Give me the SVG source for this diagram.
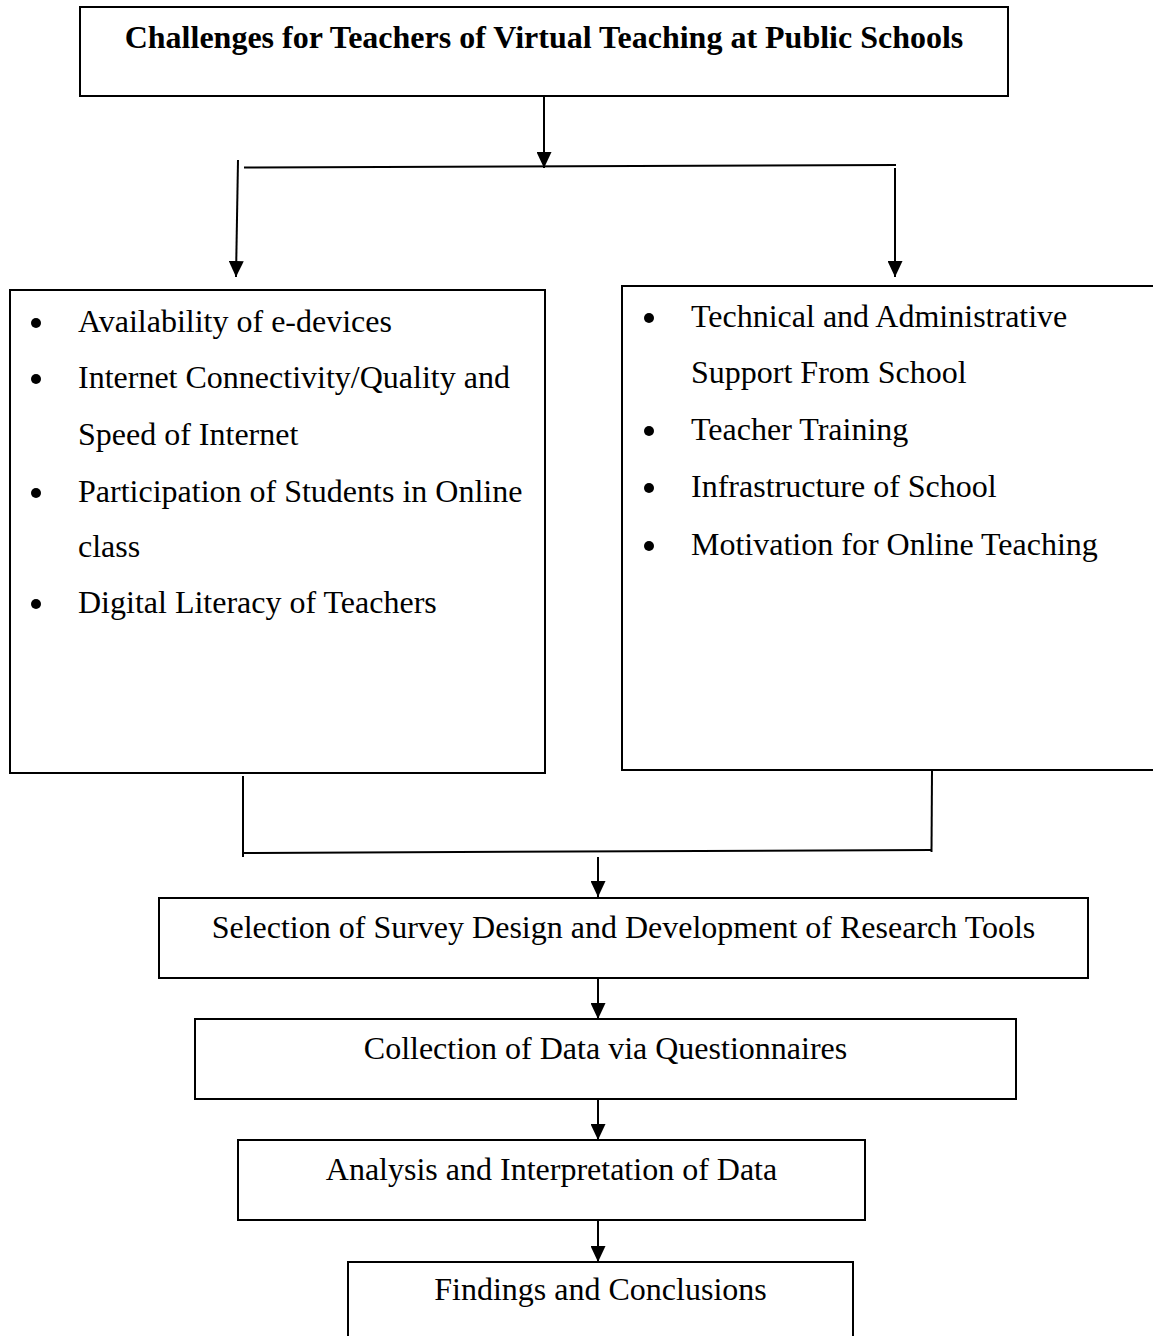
<svg xmlns="http://www.w3.org/2000/svg" width="1153" height="1336" viewBox="0 0 1153 1336">
<defs>
<style>
.box{fill:#fff;stroke:#000;stroke-width:2}
.t{font-family:"Liberation Serif","Times New Roman",serif;font-size:32px;fill:#000}
.c{text-anchor:middle}
.b{font-weight:bold}
.ln{fill:none;stroke:#000;stroke-width:2}
.bul{fill:#000}
</style>
<marker id="ah" viewBox="0 0 16 15" refX="16" refY="7.5" markerWidth="16" markerHeight="15" markerUnits="userSpaceOnUse" orient="auto">
<path d="M0,0 L16,7.5 L0,15 z" fill="#000"/>
</marker>
</defs>
<rect width="1153" height="1336" fill="#fff"/>
<g id="connectors">
<line class="ln" x1="544" y1="97" x2="544" y2="168" marker-end="url(#ah)"/>
<line class="ln" x1="244" y1="167.5" x2="896" y2="165"/>
<line class="ln" x1="238" y1="160" x2="236" y2="277" marker-end="url(#ah)"/>
<line class="ln" x1="895" y1="168" x2="895" y2="277" marker-end="url(#ah)"/>
<line class="ln" x1="243" y1="776" x2="243" y2="857"/>
<line class="ln" x1="932" y1="770" x2="931.5" y2="852"/>
<line class="ln" x1="243" y1="853" x2="932" y2="850"/>
<line class="ln" x1="598" y1="857" x2="598" y2="897" marker-end="url(#ah)"/>
<line class="ln" x1="598" y1="979" x2="598" y2="1019" marker-end="url(#ah)"/>
<line class="ln" x1="598" y1="1100" x2="598" y2="1140" marker-end="url(#ah)"/>
<line class="ln" x1="598" y1="1221" x2="598" y2="1262" marker-end="url(#ah)"/>
</g>
<g id="title">
<rect class="box" x="80" y="7" width="928" height="89"/>
<text class="t b c" x="544" y="48">Challenges for Teachers of Virtual Teaching at Public Schools</text>
</g>
<g id="left-factors">
<rect class="box" x="10" y="290" width="535" height="483"/>
<circle class="bul" cx="36" cy="323" r="5"/>
<text class="t" x="78" y="332">Availability of e-devices</text>
<circle class="bul" cx="36" cy="379" r="5"/>
<text class="t" x="78" y="388">Internet Connectivity/Quality and</text>
<text class="t" x="78" y="445">Speed of Internet</text>
<circle class="bul" cx="36" cy="493" r="5"/>
<text class="t" x="78" y="502">Participation of Students in Online</text>
<text class="t" x="78" y="557">class</text>
<circle class="bul" cx="36" cy="604" r="5"/>
<text class="t" x="78" y="613">Digital Literacy of Teachers</text>
</g>
<g id="right-factors">
<rect class="box" x="622" y="286" width="540" height="484"/>
<circle class="bul" cx="649" cy="318" r="5"/>
<text class="t" x="691" y="327">Technical and Administrative</text>
<text class="t" x="691" y="383">Support From School</text>
<circle class="bul" cx="649" cy="431" r="5"/>
<text class="t" x="691" y="440">Teacher Training</text>
<circle class="bul" cx="649" cy="488" r="5"/>
<text class="t" x="691" y="497">Infrastructure of School</text>
<circle class="bul" cx="649" cy="546" r="5"/>
<text class="t" x="691" y="555">Motivation for Online Teaching</text>
</g>
<g id="survey-design">
<rect class="box" x="159" y="898" width="929" height="80"/>
<text class="t c" x="623.5" y="938">Selection of Survey Design and Development of Research Tools</text>
</g>
<g id="data-collection">
<rect class="box" x="195" y="1019" width="821" height="80"/>
<text class="t c" x="605.5" y="1059">Collection of Data via Questionnaires</text>
</g>
<g id="analysis">
<rect class="box" x="238" y="1140" width="627" height="80"/>
<text class="t c" x="551.5" y="1180">Analysis and Interpretation of Data</text>
</g>
<g id="findings">
<rect class="box" x="348" y="1262" width="505" height="90"/>
<text class="t c" x="600.5" y="1300">Findings and Conclusions</text>
</g>
</svg>
